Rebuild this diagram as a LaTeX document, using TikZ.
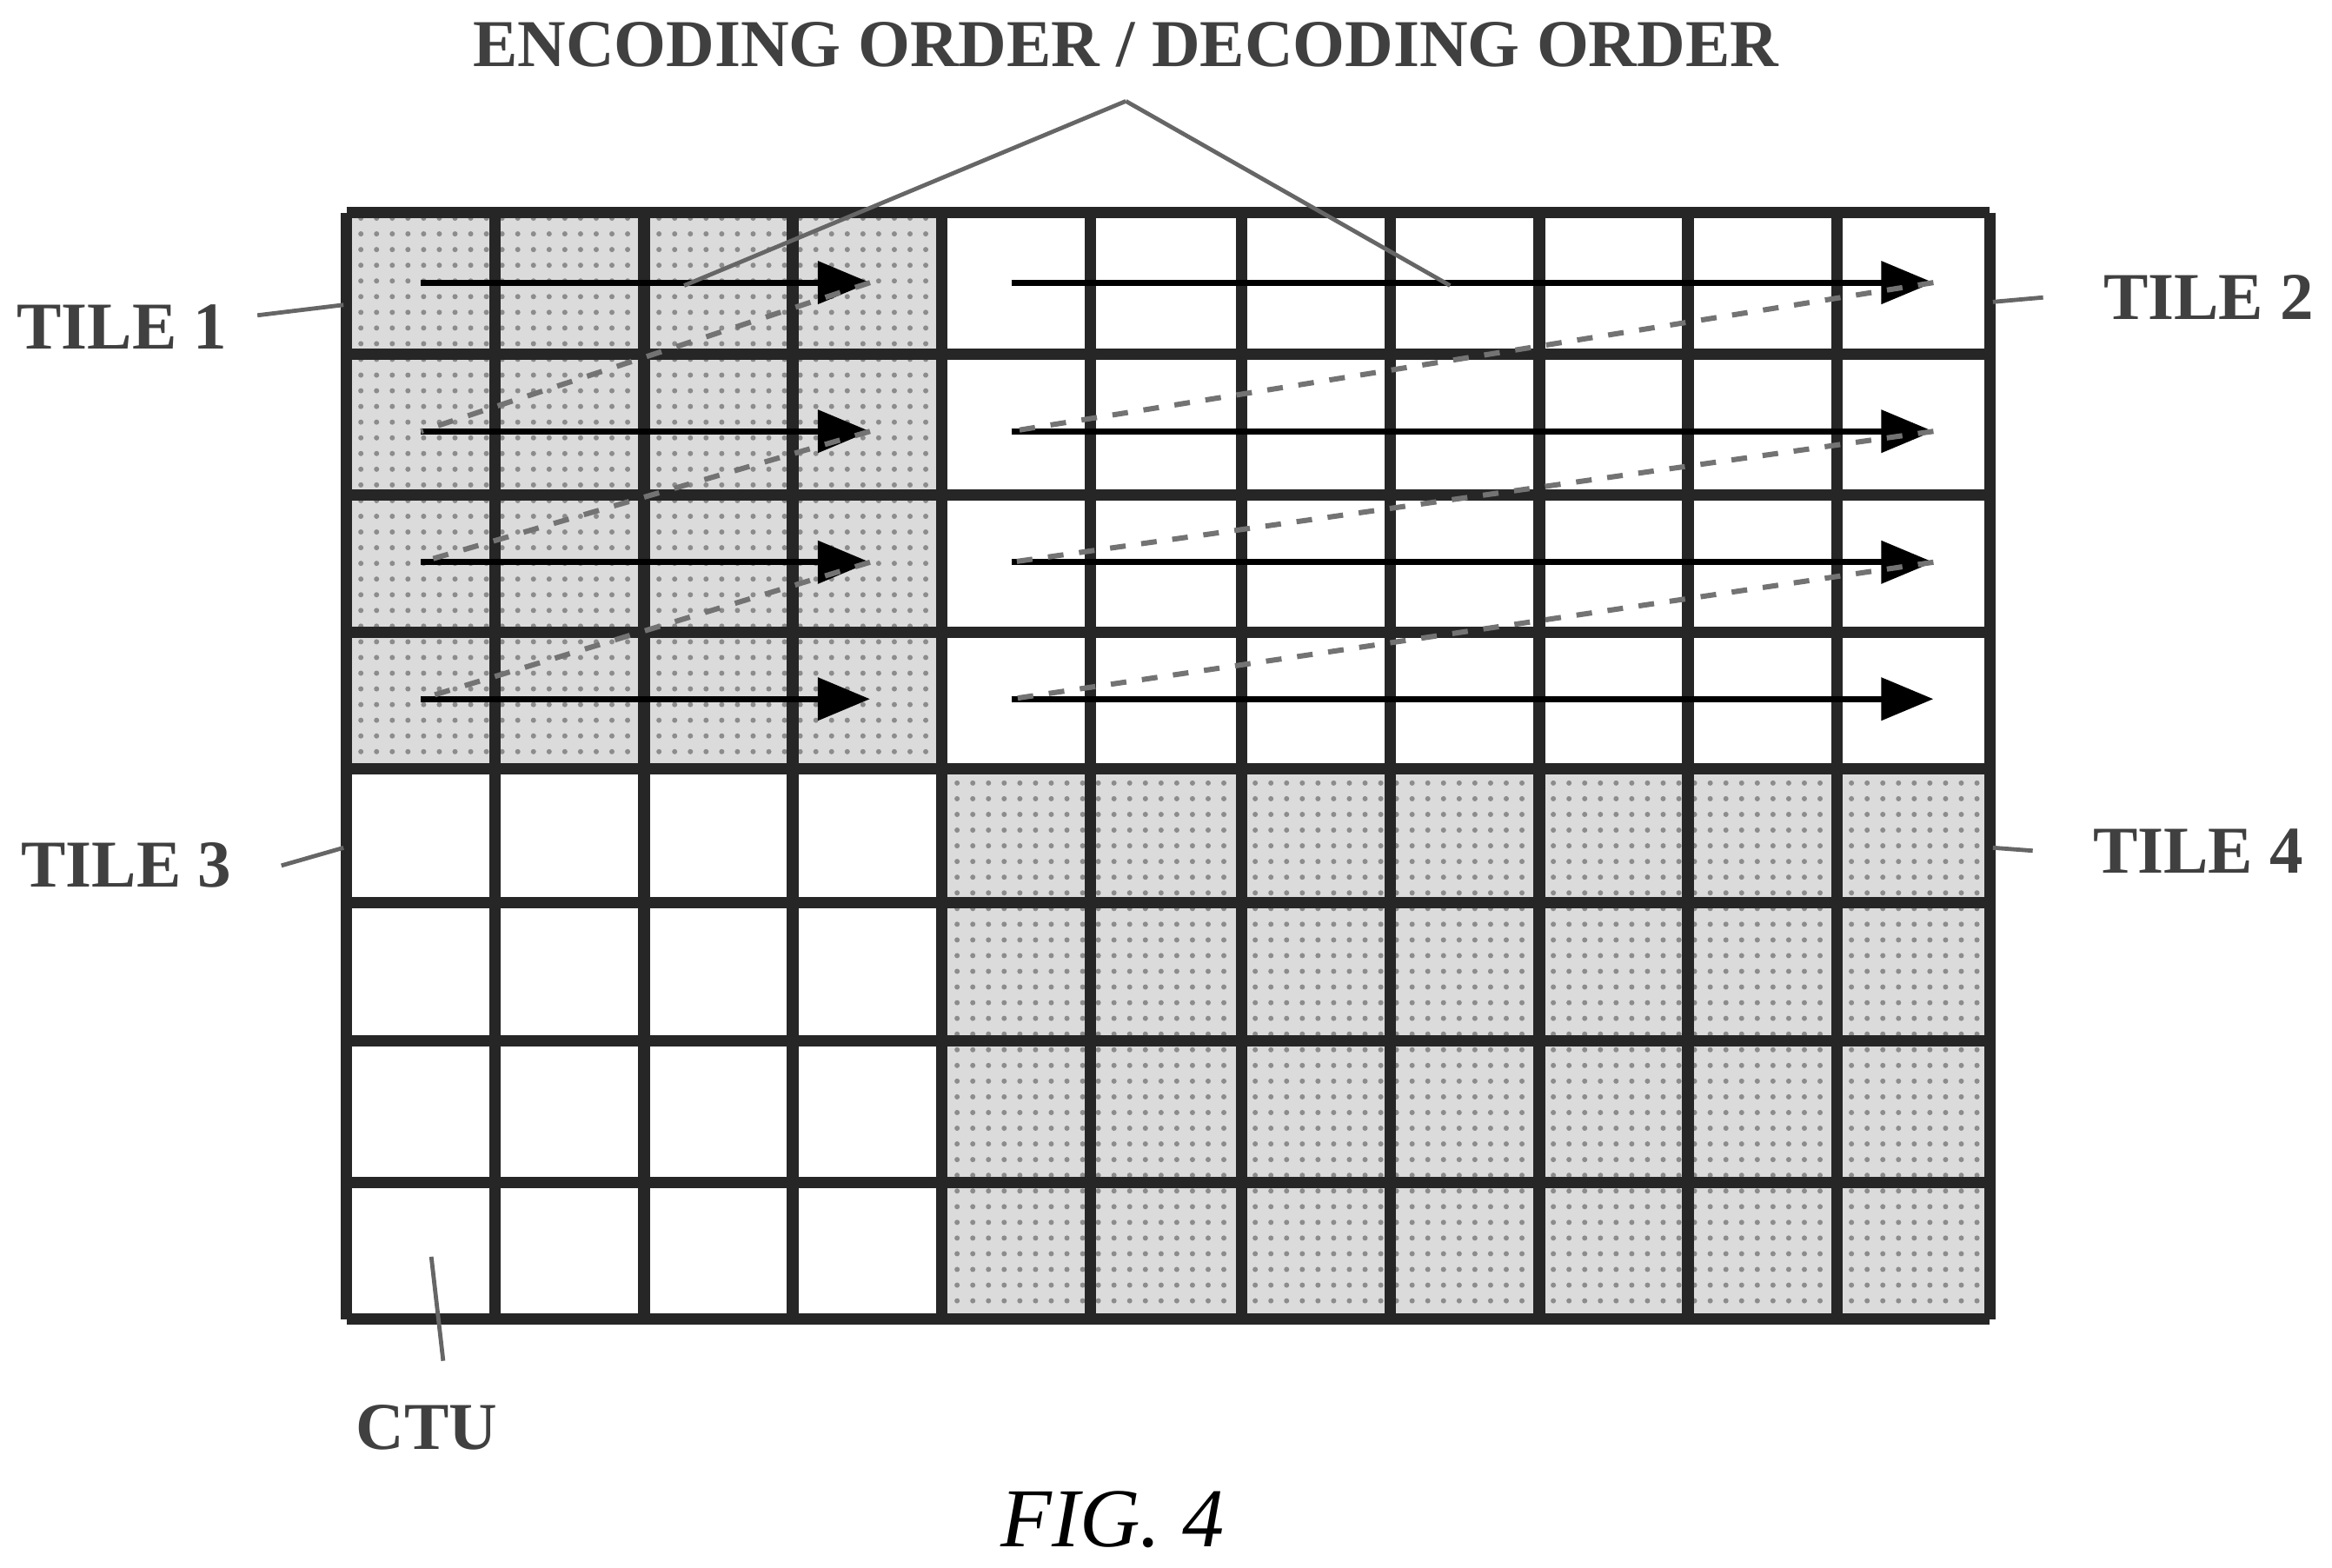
\documentclass[tikz,border=0pt]{standalone}
\usepackage{fontspec}
\setmainfont{Liberation Serif}
\usetikzlibrary{arrows.meta,patterns}
\begin{document}
\begin{tikzpicture}[x=0.01cm,y=-0.01cm,
  shaded/.style={fill=black!14},
  gridline/.style={line width=2.2pt,black!85},
  arr/.style={line width=1.2pt,-{Triangle[length=10pt,width=8pt]}},
  ret/.style={line width=1pt,black!55,dashed},
  lead/.style={line width=0.8pt,black!60},
  lbl/.style={font=\fontsize{12.8}{14}\selectfont\bfseries,text=black!75}]
\useasboundingbox (0,0) rectangle (1568,1054);
% fills
\fill[shaded] (233,143) rectangle (633,517);
\fill[shaded] (633,517) rectangle (1338,887);
\fill[pattern=dots,pattern color=black!45] (233,143) rectangle (633,517);
\fill[pattern=dots,pattern color=black!45] (633,517) rectangle (1338,887);
% grid
\foreach \x in {233,333,433,533,633,733,835,935,1035,1135,1235,1338}
  \draw[gridline] (\x,143) -- (\x,887);
\foreach \y in {143,238,333,425,517,607,700,795,887}
  \draw[gridline] (233,\y) -- (1338,\y);
% arrows
\foreach \y [count=\i] in {190,290,378,470} {
  \coordinate (a\i) at (283,\y); \coordinate (b\i) at (585,\y);
  \coordinate (c\i) at (680,\y); \coordinate (d\i) at (1300,\y);
  \draw[arr] (a\i) -- (b\i);
  \draw[arr] (c\i) -- (d\i);
}
\foreach \i/\j in {1/2,2/3,3/4} {
  \draw[ret] (b\i) -- (a\j);
  \draw[ret] (d\i) -- (c\j);
}
% labels
\node[lbl] (enc) at (757,30) {ENCODING ORDER / DECODING ORDER};
\coordinate (ep) at (757,68);
\draw[lead] (ep) -- (460,192);
\draw[lead] (ep) -- (975,192);
\node[lbl] (t1) at (82,220) {TILE 1};
\draw[lead] (t1.east) ++(8,-8) -- (231,205);
\node[lbl] (t2) at (1485,200) {TILE 2};
\draw[lead] (1340,203) -- ([xshift=-8]t2.west);
\node[lbl] (t3) at (85,582) {TILE 3};
\draw[lead] ([xshift=6]t3.east) -- (231,570);
\node[lbl] (t4) at (1478,572) {TILE 4};
\draw[lead] (1340,570) -- ([xshift=-8]t4.west);
\node[lbl] (ctu) at (287,960) {CTU};
\draw[lead] (290,845) -- (298,915);
\node[font=\fontsize{16}{19}\selectfont\itshape] (fig) at (748,1022) {FIG. 4};
\end{tikzpicture}
\end{document}
